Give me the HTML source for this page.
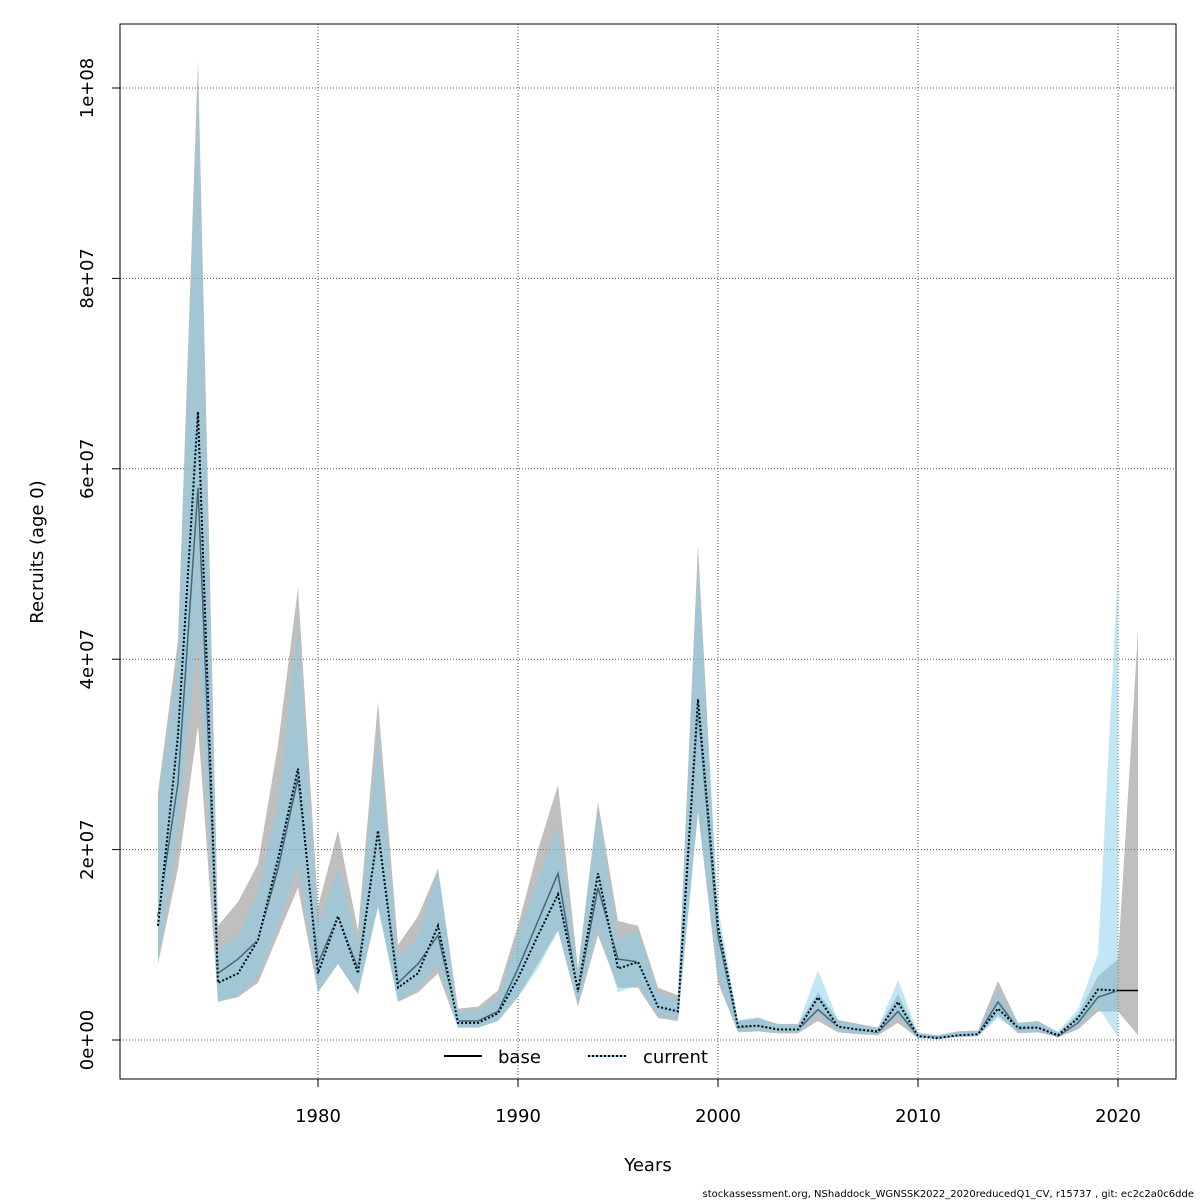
<!DOCTYPE html>
<html><head><meta charset="utf-8"><style>
body{margin:0;background:#fff;}
svg{display:block;font-family:"DejaVu Sans","Liberation Sans",sans-serif;}
</style></head><body>
<svg id="chart" width="1200" height="1200" viewBox="0 0 1200 1200" xmlns="http://www.w3.org/2000/svg">
<g id="grid"></g>
<g id="series"></g>
<rect x="120" y="24" width="1056" height="1055" fill="none" stroke="#000" stroke-width="1"/>
<g id="axes"></g>
<text x="648" y="1171" font-size="18" text-anchor="middle">Years</text>
<text transform="translate(43,552) rotate(-90)" font-size="18" text-anchor="middle">Recruits (age 0)</text>
<g>
<line x1="444" y1="1056" x2="482" y2="1056" stroke="#000" stroke-width="2"/>
<text x="498" y="1063" font-size="18">base</text>
<line x1="588" y1="1056" x2="626" y2="1056" stroke="#87ceeb" stroke-width="2"/>
<line x1="588" y1="1056" x2="626" y2="1056" stroke="#000" stroke-width="2" stroke-dasharray="2,2"/>
<text x="643" y="1063" font-size="18">current</text>
</g>
<text x="1194" y="1197" font-size="10" text-anchor="end">stockassessment.org, NShaddock_WGNSSK2022_2020reducedQ1_CV, r15737 , git: ec2c2a0c6dde</text>
</svg>
<script>
const baseYears=[1972,1973,1974,1975,1976,1977,1978,1979,1980,1981,1982,1983,1984,1985,1986,1987,1988,1989,1990,1991,1992,1993,1994,1995,1996,1997,1998,1999,2000,2001,2002,2003,2004,2005,2006,2007,2008,2009,2010,2011,2012,2013,2014,2015,2016,2017,2018,2019,2020,2021];
const baseEst=[13,27,58,7,8.5,10.5,18,27.5,8,13,7.5,22,6,8,11,2,2,3,7.5,12.5,17.5,5,16,8.5,8.2,3.5,3,35,11,1.3,1.5,1.1,1.1,3.2,1.4,1.1,0.8,3,0.4,0.25,0.5,0.6,4,1.2,1.3,0.4,1.8,4.5,5.2,5.2];
const baseLo=[8,18,33,4,4.5,6,11,16,5,8,4.8,14,4,5,7,1.3,1.3,2,4.5,8,11.5,3.5,11,5.5,5.5,2.3,2,24,6,0.8,0.9,0.7,0.7,2,0.8,0.6,0.5,1.8,0.2,0.1,0.3,0.4,2.6,0.7,0.8,0.3,1.1,3,3,0.5];
const baseHi=[26,42,103,12,14.5,18.5,31,47.5,14,22,11.5,35.5,10,13,18,3.3,3.5,5.2,12,20,26.8,7.5,25,12.5,12,5.5,4.7,52,12.5,2,2.3,1.7,1.7,5,2.1,1.7,1.3,4.8,0.7,0.5,0.9,1,6.2,1.8,2,0.8,2.7,6.7,8.5,43];
const curYears=baseYears.slice(0,49);
const curEst=[12,32,66,6,7,10.5,19,28.5,7,13,7,22,5.5,7,12,1.8,1.8,2.8,6.5,11,15.3,5.2,17.5,7.5,8.2,3.5,3,35.8,12,1.4,1.5,1.1,1.1,4.5,1.4,1.1,0.9,4,0.4,0.2,0.5,0.6,3.3,1.3,1.3,0.5,2.3,5.3,5.2];
const curLo=[8,22,43,4,4.7,6.5,12,18.5,5,8,5,14,4,5.5,8,1.3,1.3,2,4.5,7.5,11.5,3.8,12,5,5.8,2.5,2.2,24,6.5,0.9,1,0.8,0.8,2.8,1,0.7,0.6,2.5,0.2,0.1,0.3,0.4,2.3,0.9,0.9,0.3,1.5,3.5,0.3];
const curHi=[25,40,100,9.5,11,15.5,25,43.5,12,18,10,32,8.5,11,18,3,3.2,4.5,11,17,22.5,7,24.5,10.5,11.5,5,4.2,50,14,2.1,2.4,1.6,1.6,7.3,2.1,1.7,1.3,6.3,0.8,0.5,0.9,1,5,1.8,1.9,0.9,3.2,9,49.5];
const xTicks=[1980,1990,2000,2010,2020];
const yTicks=[0,20,40,60,80,100];
const yTickLabels=["0e+00","2e+07","4e+07","6e+07","8e+07","1e+08"];

const NS="http://www.w3.org/2000/svg";
const X=y=>318+(y-1980)*20;
const Y=v=>1040-v*9.52;
function mk(tag,attrs,parent){const e=document.createElementNS(NS,tag);for(const k in attrs)e.setAttribute(k,attrs[k]);parent.appendChild(e);return e;}
const grid=document.getElementById('grid'),axes=document.getElementById('axes'),series=document.getElementById('series');
xTicks.forEach(t=>{
  const g=mk('line',{x1:X(t),x2:X(t),y1:24,y2:1079,stroke:'#555','stroke-dasharray':'1,2'},grid);
  
  
  const tk=mk('line',{x1:X(t),x2:X(t),y1:1079,y2:1087,stroke:'#000'},axes);
  
  
  const tx=mk('text',{x:X(t),y:1122,'font-size':18,'text-anchor':'middle'},axes);
  tx.textContent=t;
  
  
});
yTicks.forEach((t,i)=>{
  const g=mk('line',{x1:120,x2:1176,y1:Y(t),y2:Y(t),stroke:'#555','stroke-dasharray':'1,2'},grid);
  
  
  const tk=mk('line',{x1:112,x2:120,y1:Y(t),y2:Y(t),stroke:'#000'},axes);
  
  
  const tx=mk('text',{transform:`translate(93,${Y(t)}) rotate(-90)`,'font-size':18,'text-anchor':'middle'},axes);
  tx.textContent=yTickLabels[i];
  
  
});
function band(years,lo,hi,fill,name){
  let pts=years.map((y,i)=>X(y)+','+Y(hi[i]));
  for(let i=years.length-1;i>=0;i--)pts.push(X(years[i])+','+Y(lo[i]));
  const p=mk('polygon',{points:pts.join(' '),fill:fill},series);
  
  
}
function line(years,v,attrs,name){
  const p=mk('polyline',Object.assign({points:years.map((y,i)=>X(y)+','+Y(v[i])).join(' '),fill:'none'},attrs),series);
  
  
}
band(baseYears,baseLo,baseHi,'rgba(127,127,127,0.5)','base-ci-band');
line(baseYears,baseEst,{stroke:'#000','stroke-width':1.5},'base-line');
band(curYears,curLo,curHi,'rgba(135,206,235,0.5)','current-ci-band');
line(curYears,curEst,{stroke:'#87ceeb','stroke-width':2},'current-line-blue');
line(curYears,curEst,{stroke:'#000','stroke-width':2,'stroke-dasharray':'2,2'},'current-line');
</script>
</body></html>
